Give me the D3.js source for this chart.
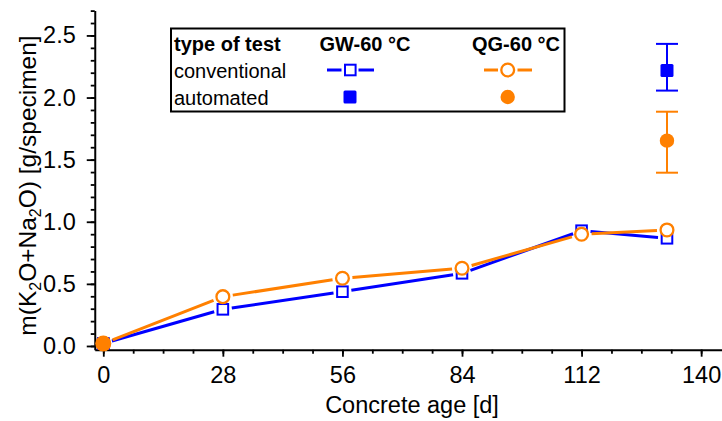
<!DOCTYPE html>
<html>
<head>
<meta charset="utf-8">
<script src="https://cdn.jsdelivr.net/npm/d3@7"></script>
<style>
  html, body { margin: 0; padding: 0; background: #fff; }
  svg { display: block; font-family: "Liberation Sans", Arial, sans-serif; }
</style>
</head>
<body>
<svg id="chart" width="722" height="421"></svg>
<script>
// Data
const days = [0, 28, 56, 84, 112, 132];
const gwConventional = [0.02, 0.295, 0.437, 0.585, 0.928, 0.867];
const qgConventional = [0.02, 0.397, 0.545, 0.626, 0.9, 0.934];

const autoDays = [0, 132];
const gwAutomated = [0.02, 2.217];
const gwAutomatedLow = [null, 2.056];
const gwAutomatedHigh = [null, 2.432];
const qgAutomated = [0.02, 1.653];
const qgAutomatedLow = [null, 1.395];
const qgAutomatedHigh = [null, 1.886];

const xTicks = [0, 28, 56, 84, 112, 140];
const yTicks = [0, 0.5, 1, 1.5, 2, 2.5];

const blue = '#0000ff';
const orange = '#ff8000';

const svg = d3.select('#chart');

// Scalers
const x = d3.scaleLinear().domain([-2, 145]).range([94.75, 722.5]);
const y = d3.scaleLinear().domain([-0.03, 2.7]).range([349.7, 10.6]);

// Axes
const xMinor = d3.range(0, 141, 7);
const yMinor = d3.range(0, 28).map((i) => i / 10);

svg.append('g')
  .attr('transform', `translate(0,${y(-0.03)})`)
  .call(d3.axisBottom(x).tickValues(xMinor).tickSize(4).tickFormat(''))
  .call((g) => g.select('.domain').remove())
  .call((g) => g.selectAll('line').attr('stroke-width', 1.8));

svg.append('g')
  .attr('class', 'axis axis-x')
  .attr('transform', `translate(0,${y(-0.03)})`)
  .call(d3.axisBottom(x).tickValues(xTicks).tickSize(7).tickSizeOuter(0).tickPadding(10))
  .call((g) => g.select('.domain').attr('stroke-width', 2))
  .call((g) => g.selectAll('line').attr('stroke-width', 1.8))
  .call((g) => g.selectAll('text').attr('font-size', 23.5).attr('fill', '#000')
    .attr('font-family', '"Liberation Sans", Arial, sans-serif'));

svg.append('g')
  .attr('transform', `translate(${x(-2)},0)`)
  .call(d3.axisLeft(y).tickValues(yMinor).tickSize(4).tickFormat(''))
  .call((g) => g.select('.domain').remove())
  .call((g) => g.selectAll('line').attr('stroke-width', 1.8));

svg.append('g')
  .attr('class', 'axis axis-y')
  .attr('transform', `translate(${x(-2)},0)`)
  .call(d3.axisLeft(y).tickValues(yTicks).tickSize(8).tickSizeOuter(0).tickPadding(11)
    .tickFormat(d3.format('.1f')))
  .call((g) => g.select('.domain').attr('stroke-width', 2))
  .call((g) => g.selectAll('line').attr('stroke-width', 1.8))
  .call((g) => g.selectAll('text').attr('font-size', 23.5).attr('fill', '#000')
    .attr('font-family', '"Liberation Sans", Arial, sans-serif'));

// Axis titles
svg.append('text')
  .attr('x', 412)
  .attr('y', 413)
  .attr('text-anchor', 'middle')
  .attr('font-size', 23.5)
  .text('Concrete age [d]');

const yTitle = svg.append('text')
  .attr('transform', 'translate(35.5,185.5) rotate(-90)')
  .attr('text-anchor', 'middle')
  .attr('font-size', 24.5);
yTitle.append('tspan').text('m(K');
yTitle.append('tspan').attr('font-size', 16).attr('dy', 5).text('2');
yTitle.append('tspan').attr('dy', -5).text('O+Na');
yTitle.append('tspan').attr('font-size', 16).attr('dy', 5).text('2');
yTitle.append('tspan').attr('dy', -5).text('O) [g/specimen]');

// Line with gaps around the symbols
function gappedSegments(pts, gap) {
  const segs = [];
  for (let i = 0; i < pts.length - 1; i++) {
    const [x1, y1] = pts[i];
    const [x2, y2] = pts[i + 1];
    const len = Math.hypot(x2 - x1, y2 - y1);
    if (len <= gap * 2) continue;
    const ux = (x2 - x1) / len;
    const uy = (y2 - y1) / len;
    segs.push([[x1 + ux * gap, y1 + uy * gap], [x2 - ux * gap, y2 - uy * gap]]);
  }
  return segs;
}

function drawSeries(values, color, shape, gap) {
  const pts = days.map((d, i) => [x(d), y(values[i])]);
  svg.append('g')
    .selectAll('line')
    .data(gappedSegments(pts, gap))
    .enter()
    .append('line')
    .attr('x1', (s) => s[0][0])
    .attr('y1', (s) => s[0][1])
    .attr('x2', (s) => s[1][0])
    .attr('y2', (s) => s[1][1])
    .attr('stroke', color)
    .attr('stroke-width', 3);
  const g = svg.append('g');
  if (shape === 'square') {
    g.selectAll('rect').data(pts).enter().append('rect')
      .attr('x', (p) => p[0] - 5.3)
      .attr('y', (p) => p[1] - 5.3)
      .attr('width', 10.6)
      .attr('height', 10.6)
      .attr('fill', '#fff')
      .attr('stroke', color)
      .attr('stroke-width', 2);
  } else {
    g.selectAll('circle').data(pts).enter().append('circle')
      .attr('cx', (p) => p[0])
      .attr('cy', (p) => p[1])
      .attr('r', 6.4)
      .attr('fill', '#fff')
      .attr('stroke', color)
      .attr('stroke-width', 2.3);
  }
}

function drawAutomated(values, low, high, color, shape) {
  const g = svg.append('g');
  autoDays.forEach((d, i) => {
    const cx = x(d);
    if (low[i] != null) {
      g.append('line')
        .attr('x1', cx).attr('x2', cx)
        .attr('y1', y(high[i])).attr('y2', y(low[i]))
        .attr('stroke', color).attr('stroke-width', 2);
      [low[i], high[i]].forEach((v) => {
        g.append('line')
          .attr('x1', cx - 11).attr('x2', cx + 11)
          .attr('y1', y(v)).attr('y2', y(v))
          .attr('stroke', color).attr('stroke-width', 2);
      });
    }
    if (shape === 'square') {
      g.append('rect')
        .attr('x', cx - 6.5).attr('y', y(values[i]) - 6.5)
        .attr('width', 13).attr('height', 13)
        .attr('rx', 1.5)
        .attr('fill', color);
    } else {
      g.append('circle')
        .attr('cx', cx).attr('cy', y(values[i]))
        .attr('r', i === 0 ? 8 : 7.2)
        .attr('fill', color);
    }
  });
}

drawSeries(gwConventional, blue, 'square', 9);
drawAutomated(gwAutomated, gwAutomatedLow, gwAutomatedHigh, blue, 'square');
drawSeries(qgConventional, orange, 'circle', 10);
drawAutomated(qgAutomated, qgAutomatedLow, qgAutomatedHigh, orange, 'circle');

// Legend
const legend = svg.append('g').attr('class', 'legend');
legend.append('rect')
  .attr('x', 171).attr('y', 28.5)
  .attr('width', 393.5).attr('height', 83)
  .attr('fill', '#fff')
  .attr('stroke', '#000')
  .attr('stroke-width', 2);

legend.append('text').attr('x', 174).attr('y', 51)
  .attr('font-size', 20).attr('font-weight', 'bold').text('type of test');
legend.append('text').attr('x', 174).attr('y', 78)
  .attr('font-size', 20).text('conventional');
legend.append('text').attr('x', 174).attr('y', 104.5)
  .attr('font-size', 20).text('automated');

legend.append('text').attr('x', 365).attr('y', 51).attr('text-anchor', 'middle')
  .attr('font-size', 20).attr('font-weight', 'bold').text('GW-60 °C');
legend.append('text').attr('x', 516).attr('y', 51).attr('text-anchor', 'middle')
  .attr('font-size', 20).attr('font-weight', 'bold').text('QG-60 °C');

// conventional symbols
[[327, 341.5], [358.5, 374]].forEach(([a, b]) => {
  legend.append('line').attr('x1', a).attr('x2', b).attr('y1', 70).attr('y2', 70)
    .attr('stroke', blue).attr('stroke-width', 3);
});
legend.append('rect').attr('x', 345).attr('y', 64.7).attr('width', 10.6).attr('height', 10.6)
  .attr('fill', '#fff').attr('stroke', blue).attr('stroke-width', 2);

[[484, 498], [517.5, 532]].forEach(([a, b]) => {
  legend.append('line').attr('x1', a).attr('x2', b).attr('y1', 70).attr('y2', 70)
    .attr('stroke', orange).attr('stroke-width', 3);
});
legend.append('circle').attr('cx', 507.7).attr('cy', 70).attr('r', 6.4)
  .attr('fill', '#fff').attr('stroke', orange).attr('stroke-width', 2.3);

// automated symbols
legend.append('rect').attr('x', 343.5).attr('y', 90.5).attr('width', 13).attr('height', 13)
  .attr('rx', 1.5).attr('fill', blue);
legend.append('circle').attr('cx', 507.7).attr('cy', 97).attr('r', 7.2).attr('fill', orange);
</script>
</body>
</html>
